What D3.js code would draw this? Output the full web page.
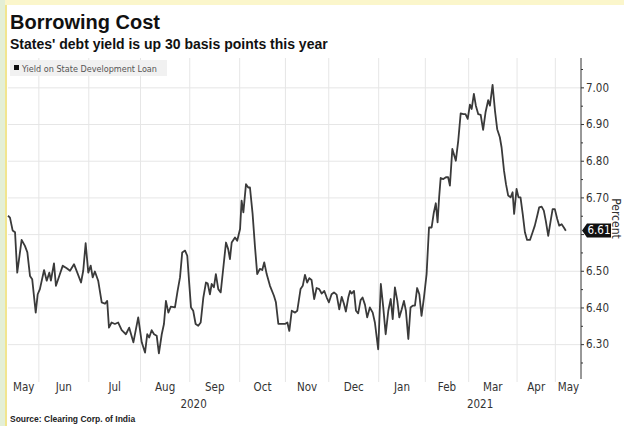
<!DOCTYPE html>
<html>
<head>
<meta charset="utf-8">
<script src="https://cdn.jsdelivr.net/npm/d3@7/dist/d3.min.js"></script>
<style>
  html, body { margin: 0; padding: 0; background: #fff; }
  svg { display: block; }
  .grid line { stroke: #e6e6e6; stroke-width: 1; }
  .grid path { display: none; }
  .lbl text { font-family: "Liberation Sans Narrow", "DejaVu Sans Condensed", sans-serif; font-size: 11.5px; fill: #333; }
  .lbl path { display: none; }
</style>
</head>
<body>
<svg id="chart"></svg>
<script>
const title = "Borrowing Cost";
const subtitle = "States' debt yield is up 30 basis points this year";
const seriesName = "Yield on State Development Loan";
const source = "Source: Clearing Corp. of India";

// trading session (counted from the first point) and yield, percent
const sessions = [
    0, 0.9, 2.1, 3.2, 4.2, 6.2, 7.7, 8.8, 10, 11, 12.6, 13.5, 14.5, 16.4, 17.6, 18.8, 19.5, 20.9, 21.8, 23.3,
    24.9, 26.7, 28.2, 30, 31.5, 33.2, 34.2, 35.3, 36.5, 37.6, 38.5, 39.5, 41, 42.6, 44.1, 45.1, 45.9, 47.1, 48.6, 50.1,
    51.7, 53.6, 55.1, 57, 59.2, 60.8, 62.3, 63.3, 64.2, 65.3, 66.4, 67.6, 68.6, 69.9, 70.9, 71.8, 72.9, 74, 75.9, 77.1,
    78.2, 79.2, 80.5, 81.5, 82.3, 83.2, 84.2, 85.3, 86.5, 87.6, 88.8, 90, 90.8, 91.8, 92.6, 93.6, 94.5, 95.6, 96.7, 97.9,
    99.1, 100.1, 100.9, 101.7, 103.2, 104.2, 105.5, 106.2, 107, 108.2, 109.2, 110, 111.2, 112.3, 113.3, 114.5, 115.6, 116.5, 117.6, 119.1,
    120.9, 121.8, 122.9, 124.4, 125.9, 127, 127.9, 129, 130.5, 131.5, 133, 134, 135, 136, 137, 138, 139.2, 140.3, 141.5, 142.6,
    143.8, 144.9, 145.9, 147.1, 148.2, 149.4, 150.6, 151.7, 152.7, 153.6, 154.7, 155.5, 156.2, 157.3, 158.2, 159.2, 160.3, 161.2, 162.3, 163.3,
    164.5, 165.8, 166.8, 168.3, 169.5, 170.6, 171.7, 172.9, 174, 174.9, 175.9, 177, 177.9, 179, 180, 180.9, 182, 183, 184, 185,
    186, 187, 188, 189.1, 190.3, 191.4, 192.6, 193.6, 194.5, 195.3, 196, 196.7, 197.9, 199.1, 200.1, 200.9, 202, 202.7, 203.6, 204.7,
    205.8, 207, 208, 209, 210, 210.8, 211.8, 212.7, 213.8, 214.9, 216, 217.1, 218.3, 219.1, 220.3, 221.4, 222.4, 223.6, 224.4, 225.5,
    226.4, 227.4, 228.5, 229.4, 230.1, 231.2, 232.1, 233, 234, 235, 236, 237.3, 238.5, 239.5, 240.6, 241.5, 242.6, 243.6, 244.5, 245.6,
    246.7, 247.6, 248.6, 249.7, 250.6, 251.7, 252.7, 253.6
];
const yields = [
    6.65, 6.645, 6.61, 6.605, 6.495, 6.584, 6.568, 6.55, 6.486, 6.477, 6.386, 6.436, 6.45, 6.502, 6.473, 6.495, 6.473, 6.52, 6.459, 6.486,
    6.514, 6.507, 6.50, 6.518, 6.495, 6.468, 6.50, 6.575, 6.495, 6.514, 6.482, 6.498, 6.473, 6.414, 6.41, 6.418, 6.345, 6.359, 6.355, 6.359,
    6.338, 6.327, 6.345, 6.305, 6.373, 6.305, 6.277, 6.327, 6.318, 6.338, 6.327, 6.323, 6.275, 6.327, 6.355, 6.418, 6.386, 6.402, 6.40, 6.445,
    6.482, 6.55, 6.555, 6.541, 6.473, 6.40, 6.391, 6.355, 6.35, 6.359, 6.427, 6.468, 6.465, 6.436, 6.464, 6.455, 6.491, 6.45, 6.441, 6.509,
    6.577, 6.559, 6.532, 6.577, 6.591, 6.582, 6.614, 6.691, 6.659, 6.736, 6.727, 6.727, 6.655, 6.564, 6.491, 6.505, 6.502, 6.523, 6.491, 6.459,
    6.432, 6.414, 6.355, 6.355, 6.355, 6.359, 6.336, 6.391, 6.386, 6.391, 6.45, 6.459, 6.489, 6.468, 6.48, 6.475, 6.423, 6.453, 6.45, 6.438,
    6.445, 6.427, 6.414, 6.436, 6.441, 6.435, 6.395, 6.429, 6.411, 6.389, 6.427, 6.445, 6.438, 6.445, 6.391, 6.384, 6.42, 6.427, 6.407, 6.373,
    6.40, 6.386, 6.359, 6.286, 6.464, 6.40, 6.327, 6.391, 6.423, 6.368, 6.455, 6.418, 6.373, 6.395, 6.418, 6.391, 6.314, 6.40, 6.405, 6.405,
    6.453, 6.436, 6.377, 6.427, 6.491, 6.618, 6.618, 6.659, 6.684, 6.632, 6.70, 6.753, 6.75, 6.755, 6.755, 6.732, 6.832, 6.818, 6.80, 6.855,
    6.929, 6.927, 6.927, 6.914, 6.953, 6.941, 6.982, 6.95, 6.927, 6.925, 6.884, 6.932, 6.965, 6.95, 7.007, 6.936, 6.886, 6.864, 6.836, 6.773,
    6.736, 6.705, 6.70, 6.714, 6.655, 6.723, 6.70, 6.70, 6.655, 6.605, 6.584, 6.584, 6.605, 6.623, 6.65, 6.673, 6.675, 6.664, 6.636, 6.595,
    6.636, 6.668, 6.668, 6.641, 6.623, 6.627, 6.618, 6.609
];

const monthLabels = ["May", "Jun", "Jul", "Aug", "Sep", "Oct", "Nov", "Dec", "Jan", "Feb", "Mar", "Apr", "May"];
// session at which each month after the first begins (Jun ... May)
const monthStarts = [13.8, 36.5, 60, 82.4, 105.1, 125.9, 145.6, 168.3, 189.5, 209.2, 231.2, 248.6];
const yearLabels = ["2020", "2021"];
const yTicks = [6.3, 6.4, 6.5, 6.6, 6.7, 6.8, 6.9, 7.0];
const yMinor = [6.25, 6.35, 6.45, 6.55, 6.65, 6.75, 6.85, 6.95, 7.05];
const lastValue = 6.61;

const width = 624;
const height = 426;
const margin = { top: 58, right: 43, bottom: 47, left: 8 };
const plotW = width - margin.left - margin.right;
const plotH = height - margin.top - margin.bottom;
const sessionEnd = 260.5;

const svg = d3.select("#chart")
    .attr("width", width)
    .attr("height", height)
    .attr("viewBox", [0, 0, width, height]);

// frame of the screenshot
svg.append("rect").attr("width", width).attr("height", height).attr("fill", "#fff");
svg.append("rect").attr("width", width).attr("height", 5).attr("fill", "#fbf6cb");
svg.append("rect").attr("width", 5).attr("height", height).attr("fill", "#e4efd6");
svg.append("rect").attr("x", 5).attr("y", 5).attr("width", 2).attr("height", height - 5).attr("fill", "#f1e58f");

const xScale = d3.scaleLinear()
    .domain([0, sessionEnd])
    .range([margin.left, margin.left + plotW]);

const yScale = d3.scaleLinear()
    .domain([6.205, 7.08])
    .range([margin.top + plotH, margin.top]);

// grid
svg.append("g")
    .attr("class", "grid")
    .attr("transform", `translate(${ margin.left + plotW },0)`)
    .call(d3.axisLeft(yScale).tickValues(yTicks).tickSize(plotW).tickFormat(""));

svg.append("g")
    .attr("class", "grid")
    .attr("transform", `translate(0,${ margin.top + plotH + 3 })`)
    .call(d3.axisBottom(xScale).tickValues(monthStarts).tickSize(-(plotH + 3)).tickFormat(""));

// legend
const legend = svg.append("g").attr("transform", "translate(10,60)");
legend.append("rect")
    .attr("width", 157)
    .attr("height", 16)
    .attr("fill", "#f1f1f1");
legend.append("rect")
    .attr("x", 4)
    .attr("y", 5)
    .attr("width", 5)
    .attr("height", 5)
    .attr("fill", "#111");
legend.append("text")
    .attr("x", 12)
    .attr("y", 11.5)
    .attr("font-family", "Liberation Sans Narrow, DejaVu Sans Condensed, sans-serif")
    .attr("font-size", 9)
    .attr("fill", "#555")
    .text(seriesName);

// yield line
const line = d3.line()
    .x((d, i) => xScale(sessions[i]))
    .y(d => yScale(d));

svg.append("path")
    .datum(yields)
    .attr("fill", "none")
    .attr("stroke", "#3a3a3a")
    .attr("stroke-width", 1.8)
    .attr("stroke-linejoin", "round")
    .attr("d", line);

// month labels sit in the middle of each visible month
const bounds = [0, ...monthStarts, sessionEnd];
const monthMids = monthLabels.map((m, i) => (bounds[i] + bounds[i + 1]) / 2);
svg.append("g")
    .attr("class", "lbl")
    .attr("transform", `translate(0,${ margin.top + plotH })`)
    .call(d3.axisBottom(xScale).tickValues(monthMids).tickSize(0).tickPadding(4)
        .tickFormat((d, i) => monthLabels[i]));

const janStart = monthStarts[monthLabels.indexOf("Jan") - 1];
const yearMids = [janStart / 2, (janStart + sessionEnd) / 2];
svg.append("g")
    .attr("class", "lbl")
    .attr("transform", `translate(0,${ margin.top + plotH + 18 })`)
    .call(d3.axisBottom(xScale).tickValues(yearMids).tickSize(0).tickPadding(3)
        .tickFormat((d, i) => yearLabels[i]));

// right axis; the last-value badge hides the label it sits on
const axisX = margin.left + plotW;
const yAxis = svg.append("g")
    .attr("class", "lbl")
    .attr("transform", `translate(${ axisX },0)`);
yAxis.call(d3.axisRight(yScale).tickValues(yMinor).tickSize(2).tickFormat(""));
yAxis.append("g")
    .call(d3.axisRight(yScale).tickValues(yTicks).tickSize(3).tickPadding(2)
        .tickFormat(d => Math.abs(yScale(d) - yScale(lastValue)) < 8 ? "" : d3.format(".2f")(d)));
yAxis.selectAll(".tick line").attr("stroke", "#333");
yAxis.append("line")
    .attr("y1", margin.top)
    .attr("y2", margin.top + plotH)
    .attr("stroke", "#333");

svg.append("text")
    .attr("transform", `translate(${ axisX + 31 },${ margin.top + plotH / 2 }) rotate(90)`)
    .attr("text-anchor", "middle")
    .attr("font-family", "Liberation Sans Narrow, DejaVu Sans Condensed, sans-serif")
    .attr("font-size", 12)
    .attr("fill", "#333")
    .text("Percent");

// last value badge
const yv = yScale(lastValue);
svg.append("path")
    .attr("d", d3.line()([[axisX + 1, yv], [axisX + 6, yv - 7], [axisX + 30, yv - 7], [axisX + 30, yv + 7], [axisX + 6, yv + 7]]) + "Z")
    .attr("fill", "#111");
svg.append("text")
    .attr("x", axisX + 18)
    .attr("y", yv + 4)
    .attr("text-anchor", "middle")
    .attr("font-family", "Liberation Sans Narrow, DejaVu Sans Condensed, sans-serif")
    .attr("font-size", 11.5)
    .attr("fill", "#fff")
    .text(d3.format(".2f")(lastValue));

// titles and source
svg.append("text")
    .attr("x", 10)
    .attr("y", 29)
    .attr("font-family", "Liberation Sans, Arial, sans-serif")
    .attr("font-weight", "bold")
    .attr("font-size", 20)
    .attr("fill", "#111")
    .text(title);
svg.append("text")
    .attr("x", 10)
    .attr("y", 49)
    .attr("font-family", "Liberation Sans, Arial, sans-serif")
    .attr("font-weight", "bold")
    .attr("font-size", 14)
    .attr("fill", "#111")
    .text(subtitle);
svg.append("text")
    .attr("x", 10)
    .attr("y", 422)
    .attr("font-family", "Liberation Sans, Arial, sans-serif")
    .attr("font-weight", "bold")
    .attr("font-size", 8.5)
    .attr("fill", "#222")
    .text(source);
</script>
</body>
</html>
